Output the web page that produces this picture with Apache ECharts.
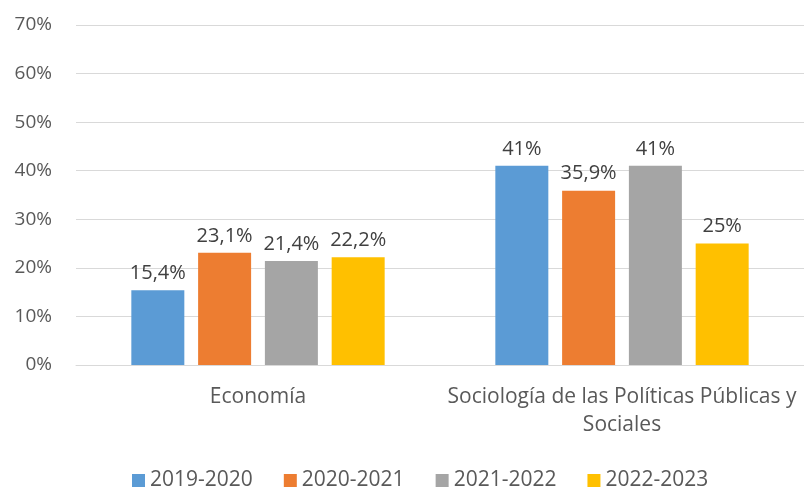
<!DOCTYPE html>
<html lang="es">
<head>
<meta charset="utf-8">
<title>Chart</title>
<script src="https://cdn.jsdelivr.net/npm/echarts@6/dist/echarts.min.js"></script>
<style>
  html, body { margin: 0; padding: 0; background: #fff; }
  #main { width: 804px; height: 488px; }
</style>
</head>
<body>
<div id="main"></div>
<script>
var categories = ['Economía', 'Sociología de las Políticas Públicas y Sociales'];
var seriesNames = ['2019-2020', '2020-2021', '2021-2022', '2022-2023'];
var values2019 = [15.4, 41];
var values2020 = [23.1, 35.9];
var values2021 = [21.4, 41];
var values2022 = [22.2, 25];
var colors = ['#5b9bd5', '#ed7d31', '#a5a5a5', '#ffc000'];

var fontFamily = 'Open Sans, Noto Sans, sans-serif';
var textColor = '#595959';

var chart = echarts.init(document.getElementById('main'));

function makeSeries(name, data, i) {
    return {
        name: name,
        type: 'bar',
        data: data,
        barWidth: 53,
        barGap: '26%',
        itemStyle: { color: colors[i] },
        label: {
            show: true,
            position: 'top',
            distance: 7,
            color: '#404040',
            fontSize: 20,
            fontFamily: fontFamily,
            formatter: function (p) {
                return String(p.value).replace('.', ',') + '%';
            }
        }
    };
}

// long category names wrap before their last word, like the original
function wrapLast(name) {
    if (name.length < 30) return name;
    var k = name.lastIndexOf(' ');
    return name.slice(0, k) + '\n' + name.slice(k + 1);
}

chart.setOption({
    animation: false,
    textStyle: { fontFamily: fontFamily },
    color: colors,
    grid: { left: 76, right: -4, top: 25, bottom: 123 },
    legend: {
        top: 470,
        left: 132,
        padding: 0,
        itemWidth: 13,
        itemHeight: 13,
        itemGap: 31,
        icon: 'rect',
        textStyle: { color: textColor, fontSize: 21, fontFamily: fontFamily }
    },
    xAxis: {
        type: 'category',
        data: categories,
        axisLine: { lineStyle: { color: '#d9d9d9', width: 1 } },
        axisTick: { show: false },
        axisLabel: {
            color: textColor,
            fontSize: 21,
            lineHeight: 28,
            margin: 18,
            interval: 0,
            fontFamily: fontFamily,
            formatter: wrapLast
        }
    },
    yAxis: {
        type: 'value',
        min: 0,
        max: 70,
        interval: 10,
        axisLine: { show: false },
        axisTick: { show: false },
        splitLine: { lineStyle: { color: '#d9d9d9', width: 1 } },
        axisLabel: {
            color: textColor,
            fontSize: 19,
            margin: 24,
            fontFamily: fontFamily,
            formatter: '{value}%'
        }
    },
    series: [
        makeSeries(seriesNames[0], values2019, 0),
        makeSeries(seriesNames[1], values2020, 1),
        makeSeries(seriesNames[2], values2021, 2),
        makeSeries(seriesNames[3], values2022, 3)
    ]
});
</script>
</body>
</html>
